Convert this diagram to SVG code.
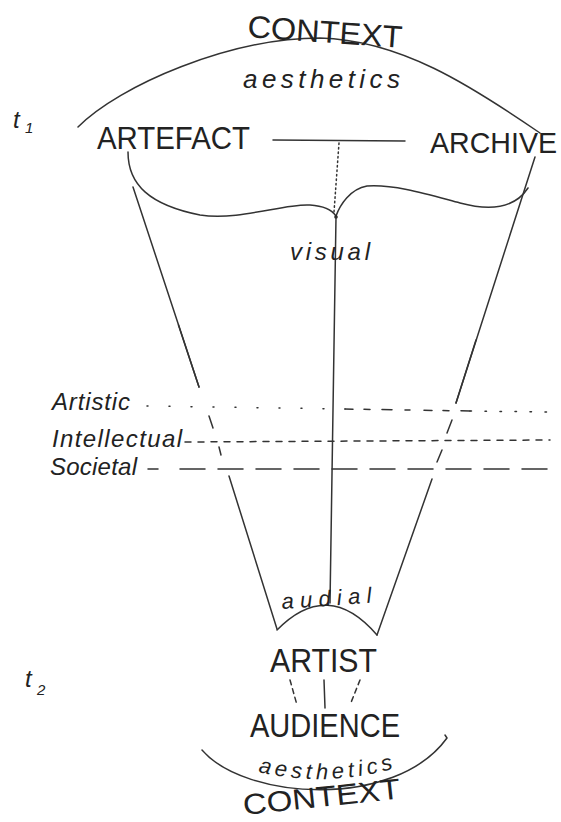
<svg xmlns="http://www.w3.org/2000/svg" width="561" height="822" viewBox="0 0 561 822">
<style>
.ln{fill:none;stroke:#333;stroke-width:1.5;stroke-linecap:round;stroke-linejoin:round}
.cap{font-family:"Liberation Sans",Arial,sans-serif;fill:#222}
.low{font-family:"Liberation Sans",Arial,sans-serif;font-style:italic;fill:#222}
</style>
<rect width="561" height="822" fill="#fff"/>
<g id="connectors">
<path class="ln" d="M78,127 C120,85 230,38 320,38 C400,40 470,85 540,133"/>
<path class="ln" d="M273,140 L405,141"/>
<path class="ln" d="M339,143 L334,212" stroke-dasharray="1.5 3" stroke-width="1.2"/>
<path class="ln" d="M128,152 C128,185 150,205 200,215 C240,221 285,203 310,205 C325,206 332,210 336,216"/>
<path class="ln" d="M336,216 C340,205 350,189 367,186 C395,184 430,195 460,203 C490,211 515,208 528,188"/>
<circle cx="336" cy="217" r="1.8" fill="#222"/>
<path class="ln" d="M336,217 L330,603"/>
<path class="ln" d="M133,187 L199,387"/>
<path class="ln" d="M178.5,325 L199,387" stroke-width="2.3"/>
<path class="ln" d="M209,416 L213,428 M219,447 L221,455"/>
<path class="ln" d="M229,476 L277,629"/>
<path class="ln" d="M535,157 L456,403"/>
<path class="ln" d="M476,340 L456,403" stroke-width="2.3"/>
<path class="ln" d="M452,420 L447,433 M442,450 L437,462"/>
<path class="ln" d="M432,479 L377,635"/>
<path class="ln" d="M277,630 Q328,578 377,635"/>
<path class="ln" d="M147,406 L345,409" stroke-width="3.2" stroke-dasharray="1 21"/>
<path class="ln" d="M345,409 L470,411" stroke-width="2.6" stroke-dasharray="8 11 6 12 10 13 5 14"/>
<path class="ln" d="M470,411 L549,412" stroke-width="2.6" stroke-dasharray="1.5 13.5"/>
<path class="ln" d="M185,442 L550,440" stroke-width="1.7" stroke-dasharray="6 7"/>
<path class="ln" d="M148,469 L158,469"/>
<path class="ln" d="M180,469 L549,469" stroke-dasharray="25 13"/>
<path class="ln" d="M290,680 L297,705" stroke-dasharray="5 4" stroke-width="1.3"/>
<path class="ln" d="M324,680 L325,708"/>
<path class="ln" d="M360,680 L350,705" stroke-dasharray="5 4" stroke-width="1.3"/>
<path class="ln" d="M202,750 C245,800 395,810 447,738 L445,735"/>
</g>
<g id="context-top"><text class="cap" x="247" y="37" font-size="31" textLength="155" lengthAdjust="spacingAndGlyphs" transform="rotate(4 247 37)">CONTEXT</text></g>
<g id="aesthetics-top"><text class="low" x="243" y="88" font-size="26" textLength="157" lengthAdjust="spacing">aesthetics</text></g>
<g id="t1"><text class="low" x="13" y="128" font-size="24">t</text><text class="low" x="25" y="133" font-size="15">1</text></g>
<g id="artefact"><text class="cap" x="97" y="149" font-size="32" textLength="153" lengthAdjust="spacingAndGlyphs">ARTEFACT</text></g>
<g id="archive"><text class="cap" x="430" y="153" font-size="29" textLength="127" lengthAdjust="spacingAndGlyphs">ARCHIVE</text></g>
<g id="visual"><text class="low" x="290" y="260" font-size="24" textLength="80" lengthAdjust="spacing">visual</text></g>
<g id="artistic"><text class="low" x="52" y="410" font-size="24" textLength="78" lengthAdjust="spacing">Artistic</text></g>
<g id="intellectual"><text class="low" x="52" y="447" font-size="24" textLength="130" lengthAdjust="spacing">Intellectual</text></g>
<g id="societal"><text class="low" x="50" y="475" font-size="24" textLength="87" lengthAdjust="spacing">Societal</text></g>
<g id="audial"><text class="low" x="282" y="609" font-size="22" textLength="90" lengthAdjust="spacing" transform="rotate(-4 282 609)">audial</text></g>
<g id="artist"><text class="cap" x="270" y="672" font-size="34" textLength="107" lengthAdjust="spacingAndGlyphs">ARTIST</text></g>
<g id="audience"><text class="cap" x="250" y="737" font-size="33" textLength="150" lengthAdjust="spacingAndGlyphs">AUDIENCE</text></g>
<defs><path id="aesPath" d="M258,772 Q326,788 396,768"/></defs>
<g id="aesthetics-bottom"><text class="low" font-size="22"><textPath href="#aesPath" textLength="137" lengthAdjust="spacing">aesthetics</textPath></text></g>
<g id="context-bottom"><text class="cap" x="244" y="815" font-size="29" textLength="158" lengthAdjust="spacingAndGlyphs" transform="rotate(-6 244 815)">CONTEXT</text></g>
<g id="t2"><text class="low" x="25" y="687" font-size="24">t</text><text class="low" x="37" y="695" font-size="15">2</text></g>
</svg>
